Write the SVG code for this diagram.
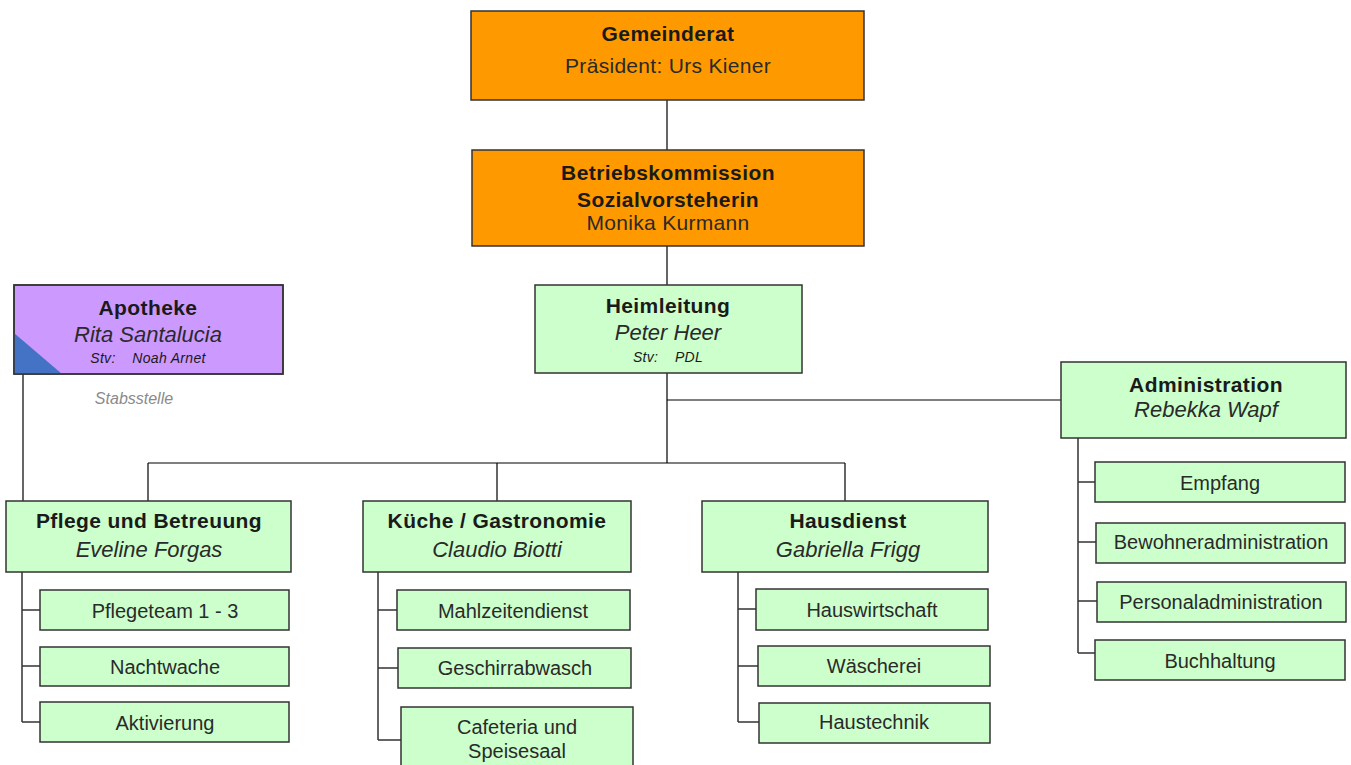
<svg xmlns="http://www.w3.org/2000/svg" width="1351" height="765" viewBox="0 0 1351 765">
<style>
text{font-family:"Liberation Sans",Arial,sans-serif;fill:#1a1a1a;text-anchor:middle}
.or{fill:#FF9900;stroke:#333;stroke-width:1.5}
.gr{fill:#CCFFCC;stroke:#333;stroke-width:1.5}
.pu{fill:#CC99FF;stroke:#333;stroke-width:1.5}
.t{font-weight:bold;font-size:21px;letter-spacing:0.4px}
.n{font-style:italic;font-size:22px;fill:#2a2a2a}
.r{font-size:21px;fill:#2a2a2a;letter-spacing:0.3px}
.s{font-size:14px;font-style:italic;letter-spacing:0.3px}
.i{font-size:20px;fill:#2a2a2a}
.ln{fill:none;stroke:#000;stroke-width:1.2}
.sl{fill:none;stroke:#333;stroke-width:1.5}
</style>
<rect width="1351" height="765" fill="#fff"/>
<g id="connectors">
<path class="ln" d="M667 100V150M667 246V285M667 373V463M667 400H1061M148 463H845M148 463V501M497 463V501M845 463V501M23 374V501"/>
<path class="sl" d="M22 572V722M22 610H40M22 666H40M22 722H40"/>
<path class="sl" d="M378 572V740M378 610H397M378 668H398M378 740H401"/>
<path class="sl" d="M738 572V722M738 609H756M738 666H758M738 722H759"/>
<path class="sl" d="M1078 438V653M1078 482H1095M1078 542H1096M1078 601H1097M1078 653H1095"/>
</g>
<g id="gemeinderat"><rect class="or" x="471" y="11" width="393" height="89"/><text class="t" x="668" y="41">Gemeinderat</text><text class="r" x="668" y="73">Präsident: Urs Kiener</text></g>
<g id="betriebskommission"><rect class="or" x="472" y="150" width="392" height="96"/><text class="t" x="668" y="180">Betriebskommission</text><text class="t" x="668" y="207">Sozialvorsteherin</text><text class="r" x="668" y="230">Monika Kurmann</text></g>
<g id="heimleitung"><rect class="gr" x="535" y="285" width="267" height="88"/><text class="t" x="668" y="313">Heimleitung</text><text class="n" x="668" y="340">Peter Heer</text><text class="s" x="668" y="362" xml:space="preserve">Stv:    PDL</text></g>
<g id="apotheke"><rect class="pu" x="14" y="285" width="269" height="89"/><path d="M14 333L62 374H14Z" fill="#4472C4"/><rect x="14" y="285" width="269" height="89" fill="none" stroke="#333" stroke-width="1.5"/><text class="t" x="148" y="315">Apotheke</text><text class="n" x="148" y="342">Rita Santalucia</text><text class="s" x="148" y="363" xml:space="preserve">Stv:    Noah Arnet</text></g>
<g id="stabsstelle"><text x="134" y="404" style="font-size:16px;font-style:italic;fill:#8a8a8a">Stabsstelle</text></g>
<g id="administration"><rect class="gr" x="1061" y="362" width="285" height="76"/><text class="t" x="1206" y="392">Administration</text><text class="n" x="1206" y="417">Rebekka Wapf</text></g>
<g id="empfang"><rect class="gr" x="1095" y="462" width="250" height="40"/><text class="i" x="1220" y="490">Empfang</text></g>
<g id="bewohneradministration"><rect class="gr" x="1096" y="523" width="249" height="40"/><text class="i" x="1221" y="549">Bewohneradministration</text></g>
<g id="personaladministration"><rect class="gr" x="1097" y="582" width="249" height="40"/><text class="i" x="1221" y="609">Personaladministration</text></g>
<g id="buchhaltung"><rect class="gr" x="1095" y="640" width="250" height="40"/><text class="i" x="1220" y="668">Buchhaltung</text></g>
<g id="pflege"><rect class="gr" x="6" y="501" width="285" height="71"/><text class="t" x="149" y="528">Pflege und Betreuung</text><text class="n" x="149" y="557">Eveline Forgas</text></g>
<g id="pflegeteam"><rect class="gr" x="40" y="590" width="249" height="40"/><text class="i" x="165" y="618">Pflegeteam 1 - 3</text></g>
<g id="nachtwache"><rect class="gr" x="40" y="647" width="249" height="39"/><text class="i" x="165" y="674">Nachtwache</text></g>
<g id="aktivierung"><rect class="gr" x="40" y="702" width="249" height="40"/><text class="i" x="165" y="730">Aktivierung</text></g>
<g id="kueche"><rect class="gr" x="363" y="501" width="268" height="71"/><text class="t" x="497" y="528">Küche / Gastronomie</text><text class="n" x="497" y="557">Claudio Biotti</text></g>
<g id="mahlzeitendienst"><rect class="gr" x="397" y="590" width="233" height="40"/><text class="i" x="513" y="618">Mahlzeitendienst</text></g>
<g id="geschirrabwasch"><rect class="gr" x="398" y="648" width="233" height="40"/><text class="i" x="515" y="675">Geschirrabwasch</text></g>
<g id="cafeteria"><rect class="gr" x="401" y="707" width="232" height="70"/><text class="i" x="517" y="734">Cafeteria und</text><text class="i" x="517" y="758">Speisesaal</text></g>
<g id="hausdienst"><rect class="gr" x="702" y="501" width="286" height="71"/><text class="t" x="848" y="528">Hausdienst</text><text class="n" x="848" y="557">Gabriella Frigg</text></g>
<g id="hauswirtschaft"><rect class="gr" x="756" y="589" width="232" height="41"/><text class="i" x="872" y="617">Hauswirtschaft</text></g>
<g id="waescherei"><rect class="gr" x="758" y="646" width="232" height="40"/><text class="i" x="874" y="673">Wäscherei</text></g>
<g id="haustechnik"><rect class="gr" x="759" y="703" width="231" height="40"/><text class="i" x="874" y="729">Haustechnik</text></g>
</svg>
